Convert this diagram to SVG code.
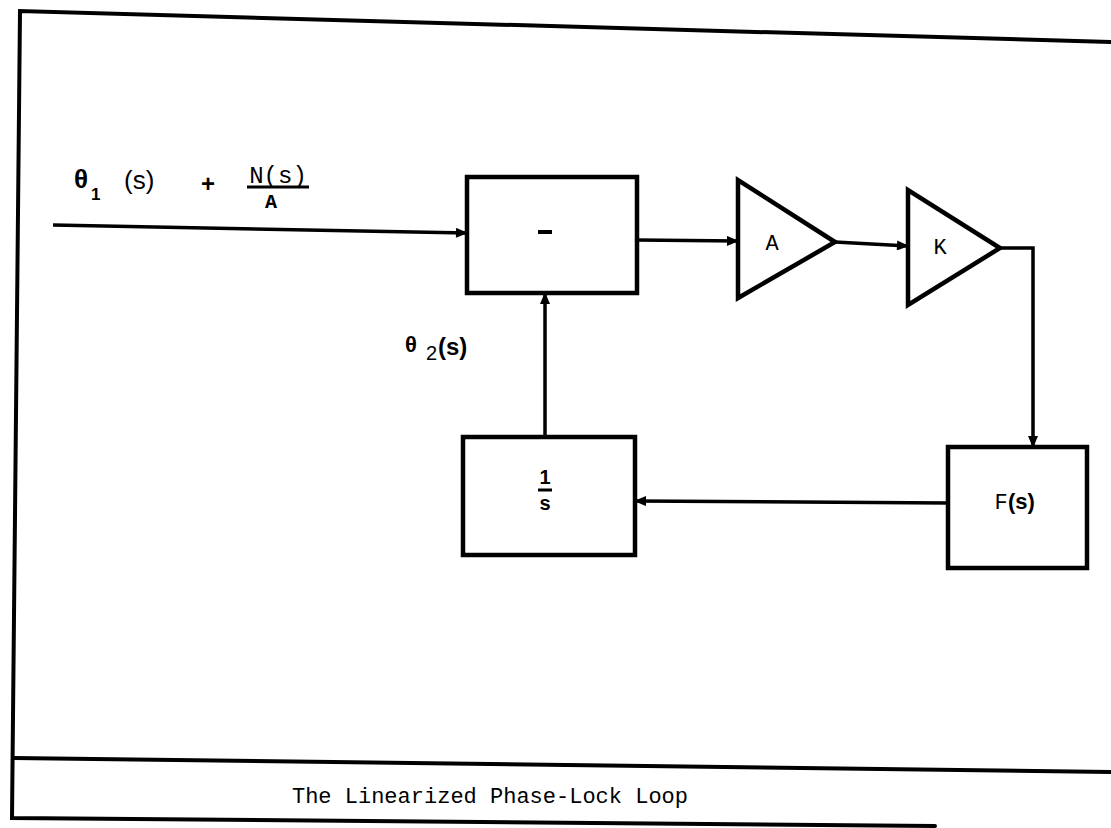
<svg xmlns="http://www.w3.org/2000/svg" width="1111" height="828" viewBox="0 0 1111 828">
<defs>
<marker id="ah" viewBox="0 0 12 10" refX="11" refY="5" markerWidth="13" markerHeight="10" markerUnits="userSpaceOnUse" orient="auto">
<path d="M0,0 L12,5 L0,10 z" fill="#000"/>
</marker>
</defs>
<style>
.frame{fill:none;stroke:#000;stroke-width:4;stroke-linecap:round}
.blk{fill:#fff;stroke:#000;stroke-width:4.5;stroke-linejoin:miter}
.con{fill:none;stroke:#000;stroke-width:3.5}
.mono{font-family:"Liberation Mono","DejaVu Sans Mono",monospace;fill:#000}
.sans{font-family:"Liberation Sans","DejaVu Sans",sans-serif;fill:#000}
</style>
<rect width="1111" height="828" fill="#fff"/>
<g id="frame">
<path class="frame" d="M1111,42 L20,11 L12,818 L935,826"/>
<path class="frame" d="M13,758 L1111,772"/>
</g>
<g id="connectors">
<path class="con" d="M53,225 L467,233" marker-end="url(#ah)"/>
<path class="con" d="M637,240 L738,241" marker-end="url(#ah)"/>
<path class="con" d="M835,242 L908,246" marker-end="url(#ah)"/>
<path class="con" d="M1000,248 L1033,248 L1033,447" marker-end="url(#ah)"/>
<path class="con" d="M948,503 L635,501" marker-end="url(#ah)"/>
<path class="con" d="M545,437 L545,293" marker-end="url(#ah)"/>
</g>
<g id="input-label">
<text class="sans" x="74" y="188" font-size="26" font-weight="bold">θ</text>
<text class="sans" x="91" y="200" font-size="17" font-weight="bold">1</text>
<text class="sans" x="124" y="189" font-size="26">(s)</text>
<text class="sans" x="201" y="192" font-size="24" font-weight="bold">+</text>
<text class="mono" x="278" y="183" font-size="24" text-anchor="middle">N(s)</text>
<line x1="247" y1="187" x2="309" y2="187" stroke="#000" stroke-width="3"/>
<text class="mono" x="271" y="208" font-size="20" text-anchor="middle" font-weight="bold">A</text>
</g>
<g id="summer">
<rect class="blk" x="467" y="177" width="170" height="116"/>
<line x1="538" y1="232" x2="552" y2="232" stroke="#000" stroke-width="4"/>
</g>
<g id="amp-A">
<polygon class="blk" points="738,180 738,298 835,242"/>
<text class="mono" x="772" y="250" font-size="22" text-anchor="middle">A</text>
</g>
<g id="amp-K">
<polygon class="blk" points="908,190 908,305 1000,248"/>
<text class="mono" x="940" y="254" font-size="22" text-anchor="middle">K</text>
</g>
<g id="filter">
<rect class="blk" x="948" y="447" width="139" height="121"/>
<text class="mono" x="1001" y="509" font-size="22" text-anchor="middle">F</text>
<text class="sans" x="1008" y="509" font-size="22" font-weight="bold">(s)</text>
</g>
<g id="integrator">
<rect class="blk" x="463" y="437" width="172" height="118"/>
<text class="sans" x="545" y="484" font-size="20" font-weight="bold" text-anchor="middle">1</text>
<line x1="538" y1="490" x2="552" y2="490" stroke="#000" stroke-width="3"/>
<text class="sans" x="545" y="510" font-size="20" font-weight="bold" text-anchor="middle">s</text>
</g>
<g id="feedback-label">
<text class="sans" x="405" y="352" font-size="22" font-weight="bold">θ</text>
<text class="sans" x="426" y="360" font-size="20">2</text>
<text class="sans" x="438" y="355" font-size="24" font-weight="bold">(s)</text>
</g>
<g id="caption">
<text class="mono" x="490" y="803" font-size="22" text-anchor="middle">The Linearized Phase-Lock Loop</text>
</g>
</svg>
